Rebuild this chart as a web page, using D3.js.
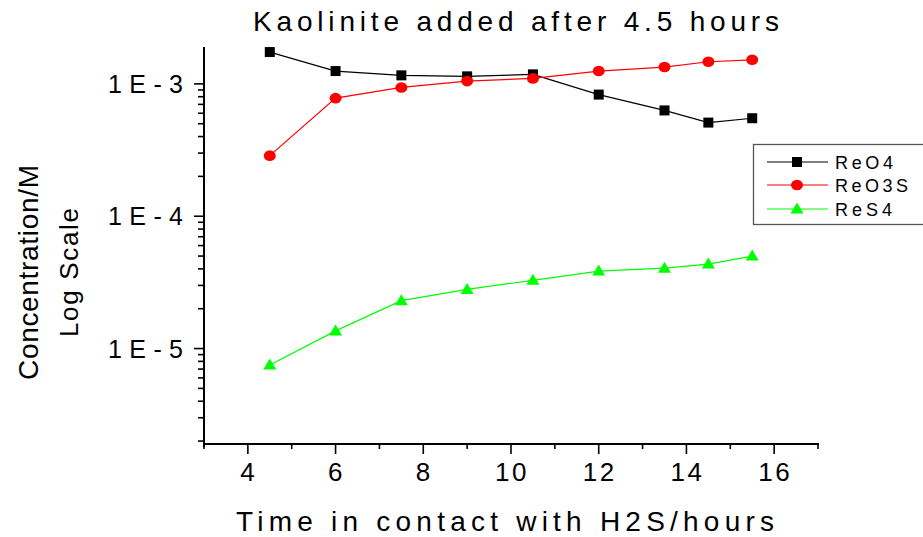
<!DOCTYPE html>
<html>
<head>
<meta charset="utf-8">
<script src="https://cdn.jsdelivr.net/npm/d3@7"></script>
<style>
  html, body { margin: 0; padding: 0; background: #fff; }
  svg { display: block; font-family: "Liberation Sans", Arial, sans-serif; }
</style>
</head>
<body>
<svg id="chart" width="923" height="537"></svg>
<script>
// Sampling times (hours of contact with H2S)
const hours = [4.5, 6, 7.5, 9, 10.5, 12, 13.5, 14.5, 15.5];

// Measured concentrations (M) for each rhenium species
const reO4  = [1.74e-3, 1.25e-3, 1.16e-3, 1.14e-3, 1.18e-3, 8.3e-4, 6.3e-4, 5.1e-4, 5.5e-4];
const reO3S = [2.87e-4, 7.8e-4, 9.4e-4, 1.05e-3, 1.1e-3, 1.25e-3, 1.34e-3, 1.47e-3, 1.52e-3];
const reS4  = [7.5e-6, 1.36e-5, 2.3e-5, 2.8e-5, 3.28e-5, 3.85e-5, 4.05e-5, 4.35e-5, 5.0e-5];

const seriesNames = ["ReO4", "ReO3S", "ReS4"];
const xTicks = [4, 6, 8, 10, 12, 14, 16];
const yTicks = [1e-5, 1e-4, 1e-3];
const yTickLabels = ["1E-5", "1E-4", "1E-3"];

const svg = d3.select("#chart");

const x = d3.scaleLinear().domain([3, 17]).range([204, 818]);
const y = d3.scaleLog().domain([1.9e-6, 1.9e-3]).range([444, 47]);

const series = [
  { name: seriesNames[0], values: reO4,  color: "#000000", shape: "square",   labelWidth: 58 },
  { name: seriesNames[1], values: reO3S, color: "#ff0000", shape: "circle",   labelWidth: 73 },
  { name: seriesNames[2], values: reS4,  color: "#00ff00", shape: "triangle", labelWidth: 57 }
];

function drawMarker(g, shape, color, cx, cy) {
  if (shape === "square") {
    g.append("rect").attr("x", cx - 5).attr("y", cy - 5)
      .attr("width", 10).attr("height", 10).attr("fill", color);
  } else if (shape === "circle") {
    g.append("ellipse").attr("cx", cx).attr("cy", cy)
      .attr("rx", 6).attr("ry", 5.3).attr("fill", color);
  } else {
    g.append("path")
      .attr("d", `M${cx},${cy - 6.5}L${cx + 6.5},${cy + 4.5}L${cx - 6.5},${cy + 4.5}Z`)
      .attr("fill", color);
  }
}

// Axes: left (log) and bottom (linear), ticks pointing outward
const axisG = svg.append("g").attr("stroke", "#000").attr("fill", "none");

// Y axis line
axisG.append("line").attr("x1", 204).attr("x2", 204)
  .attr("y1", y.range()[1]).attr("y2", 447).attr("stroke-width", 2);
// X axis line
axisG.append("line").attr("x1", 203).attr("x2", 819)
  .attr("y1", 444).attr("y2", 444).attr("stroke-width", 2);

// Y minor ticks 2..9 in each decade
const yMinor = [];
[1e-6, 1e-5, 1e-4].forEach(d => { for (let k = 2; k <= 9; k++) yMinor.push(k * d); });
const yDomain = y.domain();
yMinor.filter(v => v >= yDomain[0] && v <= yDomain[1]).forEach(v => {
  axisG.append("line").attr("x1", 198).attr("x2", 204)
    .attr("y1", y(v)).attr("y2", y(v)).attr("stroke-width", 1.6);
});
yTicks.forEach(v => {
  axisG.append("line").attr("x1", 194).attr("x2", 204)
    .attr("y1", y(v)).attr("y2", y(v)).attr("stroke-width", 1.6);
});

// X ticks: majors at even hours, minors at odd hours
const xMinor = d3.range(3, 18, 2);
xMinor.forEach(v => {
  axisG.append("line").attr("x1", x(v)).attr("x2", x(v))
    .attr("y1", 444).attr("y2", 449).attr("stroke-width", 1.6);
});
xTicks.forEach(v => {
  axisG.append("line").attr("x1", x(v)).attr("x2", x(v))
    .attr("y1", 444).attr("y2", 454).attr("stroke-width", 1.6);
});

// Tick labels
svg.append("g").selectAll("text").data(yTicks).join("text")
  .attr("x", 183).attr("y", d => y(d) + 9)
  .attr("text-anchor", "end")
  .attr("font-size", 25).attr("textLength", 75).attr("lengthAdjust", "spacing")
  .attr("fill", "#000")
  .text((d, i) => yTickLabels[i]);

svg.append("g").selectAll("text").data(xTicks).join("text")
  .attr("x", d => x(d) + 1).attr("y", 481)
  .attr("text-anchor", "middle")
  .attr("font-size", 26).attr("letter-spacing", 2.5)
  .attr("fill", "#000")
  .text(d => d);

// Titles
svg.append("text").attr("x", 253).attr("y", 31)
  .attr("font-size", 28).attr("textLength", 526).attr("lengthAdjust", "spacing")
  .attr("fill", "#000").text("Kaolinite added after 4.5 hours");

svg.append("text").attr("x", 236).attr("y", 531)
  .attr("font-size", 28).attr("textLength", 538).attr("lengthAdjust", "spacing")
  .attr("fill", "#000").text("Time in contact with H2S/hours");

svg.append("text")
  .attr("transform", "translate(38,380) rotate(-90)")
  .attr("font-size", 28).attr("textLength", 215).attr("lengthAdjust", "spacing")
  .attr("fill", "#000").text("Concentration/M");

svg.append("text")
  .attr("transform", "translate(78,337) rotate(-90)")
  .attr("font-size", 26).attr("textLength", 129).attr("lengthAdjust", "spacing")
  .attr("fill", "#000").text("Log Scale");

// Series lines and markers
const line = d3.line().x((d, i) => x(hours[i])).y(d => y(d));
series.forEach(s => {
  svg.append("path").datum(s.values)
    .attr("d", line).attr("fill", "none")
    .attr("stroke", s.color).attr("stroke-width", 1.2);
  const mg = svg.append("g");
  s.values.forEach((v, i) => drawMarker(mg, s.shape, s.color, x(hours[i]), y(v)));
});

// Legend
const lg = svg.append("g");
lg.append("rect").attr("x", 753.5).attr("y", 144.5)
  .attr("width", 175).attr("height", 80)
  .attr("fill", "#fff").attr("stroke", "#555").attr("stroke-width", 1.3);
const legendY = [162, 185, 209];
series.forEach((s, i) => {
  lg.append("line").attr("x1", 767).attr("x2", 828)
    .attr("y1", legendY[i]).attr("y2", legendY[i])
    .attr("stroke", s.color).attr("stroke-width", 1.2);
  drawMarker(lg, s.shape, s.color, 797, legendY[i]);
  lg.append("text").attr("x", 835).attr("y", legendY[i] + 6.5)
    .attr("font-size", 18).attr("textLength", s.labelWidth).attr("lengthAdjust", "spacing")
    .attr("fill", "#000").text(s.name);
});
</script>
</body>
</html>
